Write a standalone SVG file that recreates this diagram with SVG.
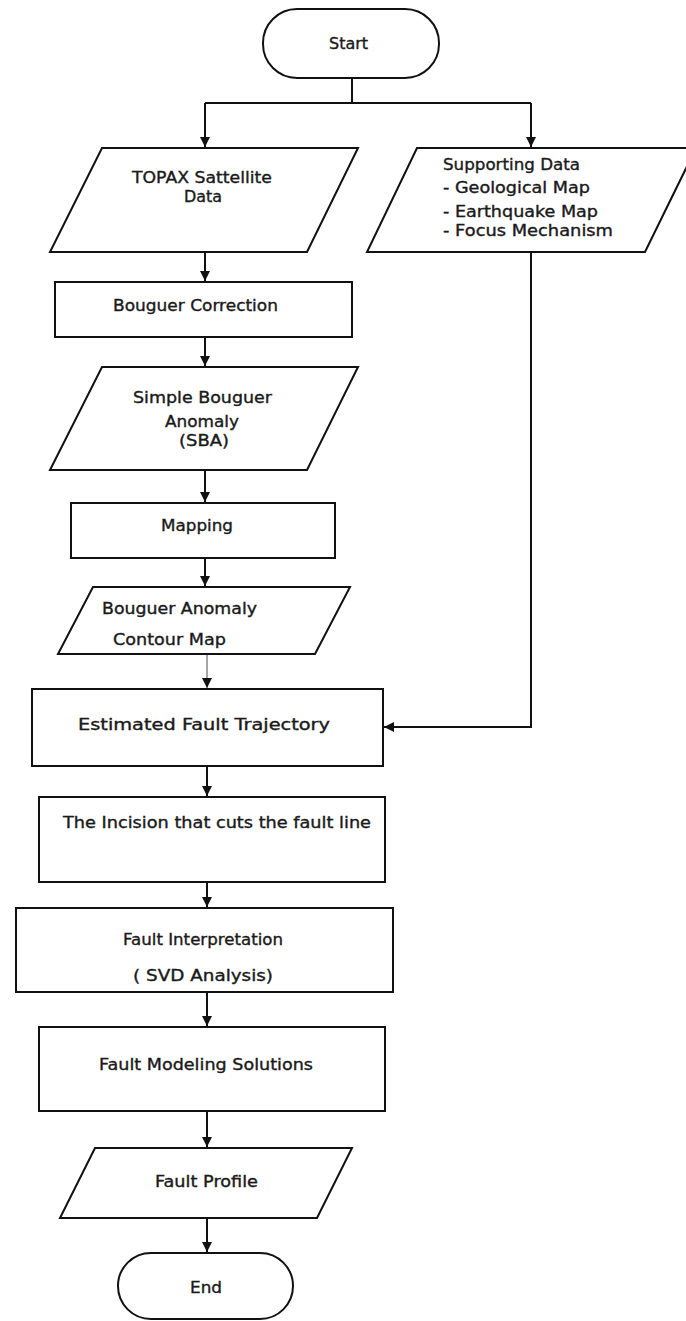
<svg xmlns="http://www.w3.org/2000/svg" width="686" height="1321" viewBox="0 0 686 1321">
<defs>
<marker id="arr" markerUnits="userSpaceOnUse" markerWidth="11" markerHeight="11" refX="10" refY="5" orient="auto">
<path d="M0,0 L10,5 L0,10 z" fill="#111"/>
</marker>
<style>
.s{fill:#fff;stroke:#111;stroke-width:2}
.c{fill:none;stroke:#111;stroke-width:2}
.g{fill:none;stroke:#888;stroke-width:1.5}
text{font-family:"DejaVu Sans","Verdana",sans-serif;font-size:15px;fill:#1a1a1a;stroke:#1a1a1a;stroke-width:0.35}
</style>
</defs>
<rect width="686" height="1321" fill="#fff"/>
<g id="connectors">
<path class="c" d="M352,78 V103"/>
<path class="c" d="M205,103 H531"/>
<path class="c" d="M205,103 V147" marker-end="url(#arr)"/>
<path class="c" d="M531,103 V147" marker-end="url(#arr)"/>
<path class="c" d="M205,252 V281" marker-end="url(#arr)"/>
<path class="c" d="M205,337 V366" marker-end="url(#arr)"/>
<path class="c" d="M205,470 V502" marker-end="url(#arr)"/>
<path class="c" d="M205,558 V586" marker-end="url(#arr)"/>
<path class="g" d="M207,654 V688" marker-end="url(#arr)"/>
<path class="c" d="M531,252 V727 H384" marker-end="url(#arr)"/>
<path class="c" d="M207,766 V796" marker-end="url(#arr)"/>
<path class="c" d="M207,882 V907" marker-end="url(#arr)"/>
<path class="c" d="M207,992 V1026" marker-end="url(#arr)"/>
<path class="c" d="M207,1111 V1147" marker-end="url(#arr)"/>
<path class="c" d="M207,1218 V1252" marker-end="url(#arr)"/>
</g>
<g id="start">
<rect class="s" x="263" y="9" width="176" height="69" rx="34" ry="34"/>
<text x="329" y="49" textLength="39" lengthAdjust="spacingAndGlyphs">Start</text>
</g>
<g id="topax">
<polygon class="s" points="102,148 358,148 307,252 50,252"/>
<text x="132" y="183" textLength="140" lengthAdjust="spacingAndGlyphs">TOPAX  Sattellite</text>
<text x="184" y="202" textLength="38" lengthAdjust="spacingAndGlyphs">Data</text>
</g>
<g id="supporting">
<polygon class="s" points="417,148 696,148 645,252 367,252"/>
<text x="443" y="170" textLength="137" lengthAdjust="spacingAndGlyphs">Supporting Data</text>
<text x="443" y="193" textLength="147" lengthAdjust="spacingAndGlyphs">- Geological Map</text>
<text x="443" y="217" textLength="155" lengthAdjust="spacingAndGlyphs">- Earthquake Map</text>
<text x="443" y="236" textLength="170" lengthAdjust="spacingAndGlyphs">- Focus Mechanism</text>
</g>
<g id="bouguer-correction">
<rect class="s" x="55" y="282" width="297" height="55"/>
<text x="113" y="311" textLength="165" lengthAdjust="spacingAndGlyphs">Bouguer Correction</text>
</g>
<g id="sba">
<polygon class="s" points="102,367 358,367 307,470 50,470"/>
<text x="133" y="403" textLength="139" lengthAdjust="spacingAndGlyphs">Simple Bouguer</text>
<text x="165" y="427" textLength="74" lengthAdjust="spacingAndGlyphs">Anomaly</text>
<text x="179" y="446" textLength="50" lengthAdjust="spacingAndGlyphs">(SBA)</text>
</g>
<g id="mapping">
<rect class="s" x="71" y="503" width="264" height="55"/>
<text x="161" y="531" textLength="72" lengthAdjust="spacingAndGlyphs">Mapping</text>
</g>
<g id="contour">
<polygon class="s" points="93,587 350,587 315,654 58,654"/>
<text x="102" y="614" textLength="155" lengthAdjust="spacingAndGlyphs">Bouguer Anomaly</text>
<text x="113" y="645" textLength="113" lengthAdjust="spacingAndGlyphs">Contour  Map</text>
</g>
<g id="estimated">
<rect class="s" x="32" y="689" width="351" height="77"/>
<text x="78" y="730" textLength="252" lengthAdjust="spacingAndGlyphs">Estimated Fault Trajectory</text>
</g>
<g id="incision">
<rect class="s" x="39" y="797" width="346" height="85"/>
<text x="63" y="828" textLength="308" lengthAdjust="spacingAndGlyphs">The  Incision that cuts the fault line</text>
</g>
<g id="interpretation">
<rect class="s" x="16" y="908" width="377" height="84"/>
<text x="123" y="945" textLength="160" lengthAdjust="spacingAndGlyphs">Fault  Interpretation</text>
<text x="133" y="981" textLength="140" lengthAdjust="spacingAndGlyphs">( SVD Analysis)</text>
</g>
<g id="modeling">
<rect class="s" x="39" y="1027" width="346" height="84"/>
<text x="99" y="1070" textLength="214" lengthAdjust="spacingAndGlyphs">Fault Modeling Solutions</text>
</g>
<g id="profile">
<polygon class="s" points="95,1148 352,1148 317,1218 60,1218"/>
<text x="155" y="1187" textLength="103" lengthAdjust="spacingAndGlyphs">Fault Profile</text>
</g>
<g id="end">
<rect class="s" x="118" y="1253" width="175" height="66" rx="33" ry="33"/>
<text x="190" y="1293" textLength="32" lengthAdjust="spacingAndGlyphs">End</text>
</g>
</svg>
